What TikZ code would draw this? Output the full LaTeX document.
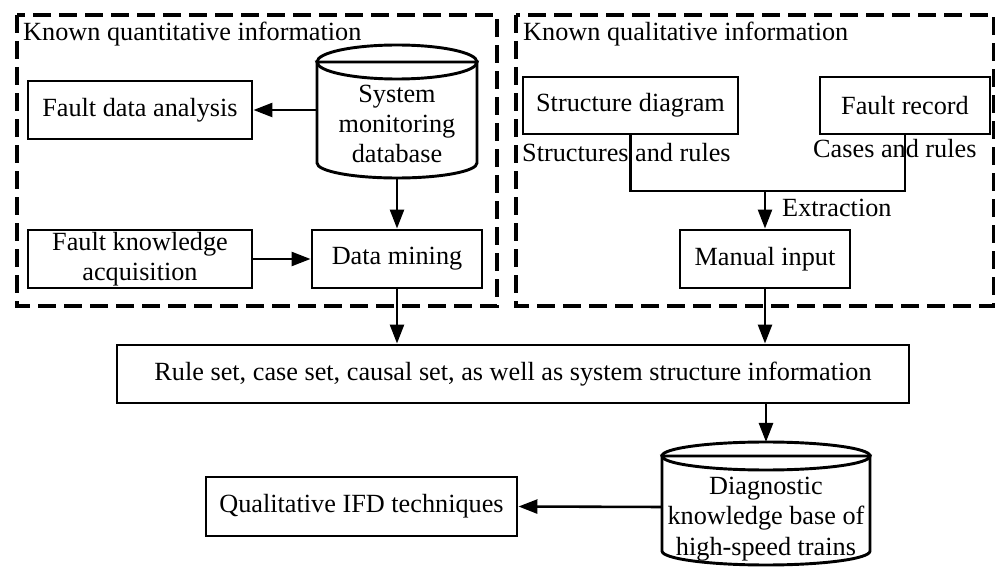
\documentclass[tikz,border=0pt]{standalone}
\usepackage{fontspec}
\setmainfont{Liberation Serif}
\usetikzlibrary{arrows.meta,positioning}

\begin{document}
\begin{tikzpicture}[x=0.03cm, y=0.03cm,
    every node/.style={font=\fontsize{22.4pt}{25.8pt}\selectfont},
    box/.style={draw, line width=2.5pt, inner sep=0pt, minimum height=1.74cm, align=center},
    frame/.style={line width=2.8pt, dash pattern=on 0.54cm off 0.24cm},
    lbl/.style={inner sep=0pt, anchor=base west},
    line/.style={line width=2.2pt},
    arr/.style={line width=2.2pt, -{Triangle[length=0.57cm, width=0.42cm]}}]
    \useasboundingbox (0,0) rectangle (995,-567);
    % dashed frames
    \draw[frame] (17,-15) rectangle (497,-306);
    \draw[frame] (516,-15) rectangle (994,-306);
    \node[lbl] (quant) at (23,-41) {Known quantitative information};
    \node[lbl] (qual) at (523,-41) {Known qualitative information};
    % left part
    \node[box, minimum width=6.72cm] (fda) at (140,-110) {Fault data analysis};
    \draw[line width=2.5pt] (317,-62) -- (317,-163) arc[start angle=180, end angle=360, x radius=2.4cm, y radius=0.45cm]
        -- (477,-62) arc[start angle=0, end angle=180, x radius=2.4cm, y radius=0.51cm];
    \draw[line width=2.5pt] (317,-62) arc[start angle=180, end angle=360, x radius=2.4cm, y radius=0.51cm] -- cycle;
    \node[align=center, inner sep=0pt] (smdb) at (397,-124) {System\\monitoring\\database};
    \coordinate (smdb-w) at (317,-110);
    \coordinate (smdb-s) at (397,-178);
    \node[box, minimum width=6.72cm] (fka) at (140,-259) {Fault knowledge\\acquisition};
    \node[box, minimum width=5.1cm] (dm) at (397,-259) {Data mining};
    \draw[arr] (smdb-w) -- (fda.east);
    \draw[arr] (smdb-s) -- (dm.north);
    \draw[arr] (fka.east) -- (dm.west);
    % right part
    \node[box, minimum width=6.45cm, minimum height=1.71cm] (sd) at (630.5,-105.5) {Structure diagram};
    \node[box, minimum width=5.1cm, minimum height=1.71cm] (fr) at (905,-105.5) {Fault record};
    \node[lbl] (sdl) at (522,-162) {Structures and rules};
    \node[lbl] (frl) at (813,-158) {Cases and rules};
    \node[box, minimum width=5.1cm] (mi) at (765,-259) {Manual input};
    \coordinate (join) at (765,-191);
    \draw[line] (sd.south) |- (join) -| (fr.south);
    \draw[arr] (join) -- (mi.north);
    \node[lbl] (ext) at (782,-217) {Extraction};
    % bottom part
    \node[box, minimum width=23.76cm] (rs) at (513,-374) {Rule set, case set, causal set, as well as system structure information};
    \draw[arr] (dm.south) -- (dm.south |- rs.north);
    \draw[arr] (mi.south) -- (mi.south |- rs.north);
    \draw[line width=2.5pt] (662,-456) -- (662,-551) arc[start angle=180, end angle=360, x radius=3.12cm, y radius=0.42cm]
        -- (870,-456) arc[start angle=0, end angle=180, x radius=3.12cm, y radius=0.42cm];
    \draw[line width=2.5pt] (662,-456) arc[start angle=180, end angle=360, x radius=3.12cm, y radius=0.42cm] -- cycle;
    \node[align=center, inner sep=0pt] (kb) at (766,-519) {Diagnostic\\knowledge base of\\high-speed trains};
    \coordinate (kb-n) at (766,-442);
    \coordinate (kb-w) at (662,-507);
    \node[box, minimum width=9.33cm, minimum height=1.77cm] (qift) at (361.5,-506.5) {Qualitative IFD techniques};
    \draw[arr] (kb-n |- rs.south) -- (kb-n);
    \draw[arr] (kb-w) -- (qift.east);
\end{tikzpicture}
\end{document}
